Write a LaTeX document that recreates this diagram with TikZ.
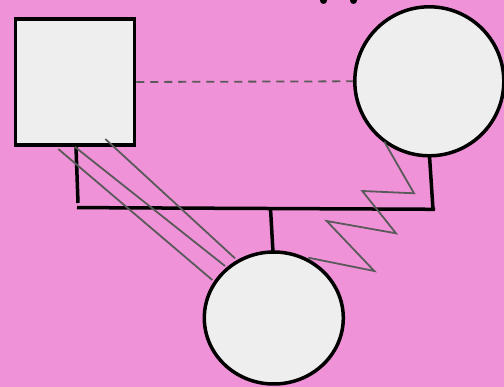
\documentclass[tikz,border=0pt]{standalone}
\usetikzlibrary{shapes.geometric}
\definecolor{bgpink}{RGB}{240,146,216}
\definecolor{nodefill}{RGB}{238,238,238}
\definecolor{relgray}{RGB}{90,90,90}
\begin{document}
\begin{tikzpicture}[x=1pt,y=-1pt,
  person/.style={draw=black,line width=3.5pt,fill=nodefill},
  famline/.style={draw=black,line width=3.5pt},
  rel/.style={draw=relgray,line width=1.8pt},
  reldash/.style={draw=relgray,line width=1.8pt,dash pattern=on 8pt off 6pt}]
\fill[bgpink] (0,0) rectangle (504,387);
\useasboundingbox (0,0) rectangle (504,387);
\begin{scope}
\clip (0,0) rectangle (504,387);
\fill[black] (323.5,0.5) circle (3.5);
\fill[black] (353.5,0.5) circle (3.5);
% male
\node[person,rectangle,minimum width=119pt,minimum height=126pt,inner sep=0pt,anchor=center] (m) at (75,82) {};
% female
\node[person,circle,minimum size=149pt,inner sep=0pt] (f) at (429.3,81.3) {};
% child
\node[person,ellipse,minimum width=139pt,minimum height=132pt,inner sep=0pt] (c) at (273.8,318) {};
\coordinate (mb) at (76,147);
\coordinate (mbe) at (78,203);
\coordinate (bl) at (77,207.6);
\coordinate (br) at (435,209.3);
\coordinate (fb) at (429.5,156);
\coordinate (fbe) at (433,209.3);
\coordinate (cb) at (270.5,208.5);
\coordinate (ct) at (273,252);
\draw[reldash] (m.east) -- (f.west);
\draw[famline] (mb) -- (mbe);
\draw[famline] (bl) -- (br);
\draw[famline] (fb) -- (fbe);
\draw[famline] (cb) -- (ct);
% relationship lines male-child
\coordinate (r1a) at (58.3,149);
\coordinate (r1b) at (212.3,280);
\coordinate (r2a) at (75,147);
\coordinate (r2b) at (225,266);
\coordinate (r3a) at (105.3,139);
\coordinate (r3b) at (235,258.3);
\draw[rel] (r1a) -- (r1b);
\draw[rel] (r2a) -- (r2b);
\draw[rel] (r3a) -- (r3b);
% zigzag female-child
\draw[rel,line join=miter] (384.3,141.7) -- (414,193.3) -- (362.3,191) -- (396,233.3) -- (326.7,221) -- (374.3,271) -- (308.3,257.7);
\end{scope}
\end{tikzpicture}
\end{document}
